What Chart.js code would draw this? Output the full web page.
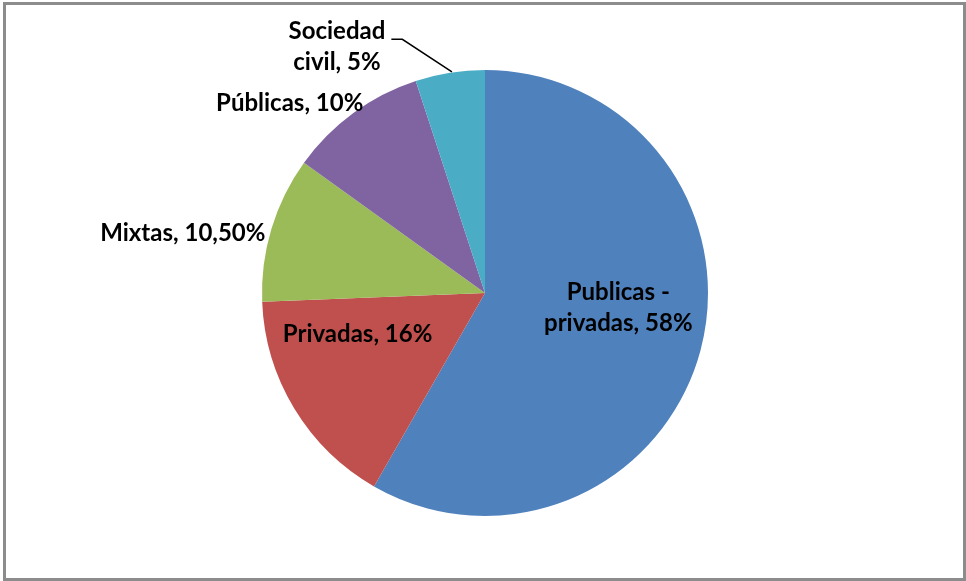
<!DOCTYPE html>
<html>
<head>
<meta charset="utf-8">
<script src="https://cdn.jsdelivr.net/npm/chart.js@4"></script>
<style>
  body { margin: 0; background: #fff; }
  #wrap { position: relative; width: 966px; height: 581px; }
  #frame { position: absolute; left: 3px; top: 2px; width: 957px; height: 573px; border: 3px solid #8c8c8c; pointer-events: none; }
</style>
</head>
<body>
<div id="wrap">
  <canvas id="pieChart" width="966" height="581"></canvas>
  <div id="frame"></div>
</div>
<script>
var categories = ["Publicas - privadas", "Privadas", "Mixtas", "Públicas", "Sociedad civil"];
var values = [58, 16, 10.5, 10, 5];
var valueLabels = [["Publicas -", "privadas, 58%"], ["Privadas, 16%"], ["Mixtas, 10,50%"], ["Públicas, 10%"], ["Sociedad", "civil, 5%"]];
var colors = ["#4F81BD", "#C0504D", "#9BBB59", "#8064A2", "#4BACC6"];

// where each label sits relative to its slice
var labelLayout = [
  { r: 0.6, dx: 4, dy: -20, align: 'center' },
  { r: 0.6, dx: -13, dy: -28, align: 'center' },
  { r: 1.0, dx: -6, dy: 4, align: 'right' },
  { r: 1.0, dx: 10, dy: -10, align: 'right' },
  { r: 1.0, dx: -113, dy: -26, align: 'center', leader: true }
];

var labelPlugin = {
  id: 'sliceLabels',
  afterDatasetsDraw: function (chart) {
    var ctx = chart.ctx;
    var arcs = chart.getDatasetMeta(0).data;
    ctx.save();
    ctx.font = 'bold 24px Lato';
    ctx.fillStyle = '#000';
    ctx.textBaseline = 'middle';
    arcs.forEach(function (arc, i) {
      var p = arc.getProps(['x', 'y', 'startAngle', 'endAngle', 'outerRadius']);
      var mid = (p.startAngle + p.endAngle) / 2;
      var lay = labelLayout[i];
      var ex = p.x + Math.cos(mid) * p.outerRadius * lay.r;
      var ey = p.y + Math.sin(mid) * p.outerRadius * lay.r;
      var lines = valueLabels[i];
      var lh = 31;
      var tx = ex + lay.dx;
      var ty = ey + lay.dy - (lines.length - 1) * lh / 2;
      ctx.textAlign = lay.align;
      lines.forEach(function (line, k) {
        ctx.fillText(line, tx, ty + k * lh);
      });
      if (lay.leader) {
        var w = ctx.measureText(lines[0]).width;
        var lx = tx + w / 2 + 6;
        var ly = ty + 8;
        ctx.strokeStyle = '#000';
        ctx.lineWidth = 1.5;
        ctx.beginPath();
        ctx.moveTo(lx, ly);
        ctx.lineTo(lx + 11, ly);
        ctx.lineTo(ex + 2, ey - 1);
        ctx.stroke();
      }
    });
    ctx.restore();
  }
};

var pieChart = new Chart(document.querySelector('#pieChart'), {
  type: 'pie',
  data: {
    labels: categories,
    datasets: [{
      data: values,
      backgroundColor: colors,
      borderWidth: 0
    }]
  },
  options: {
    responsive: false,
    animation: false,
    layout: { padding: { top: 70, bottom: 65, left: 4, right: 0 } },
    plugins: {
      legend: { display: false },
      tooltip: { enabled: false }
    }
  },
  plugins: [labelPlugin]
});
</script>
</body>
</html>
